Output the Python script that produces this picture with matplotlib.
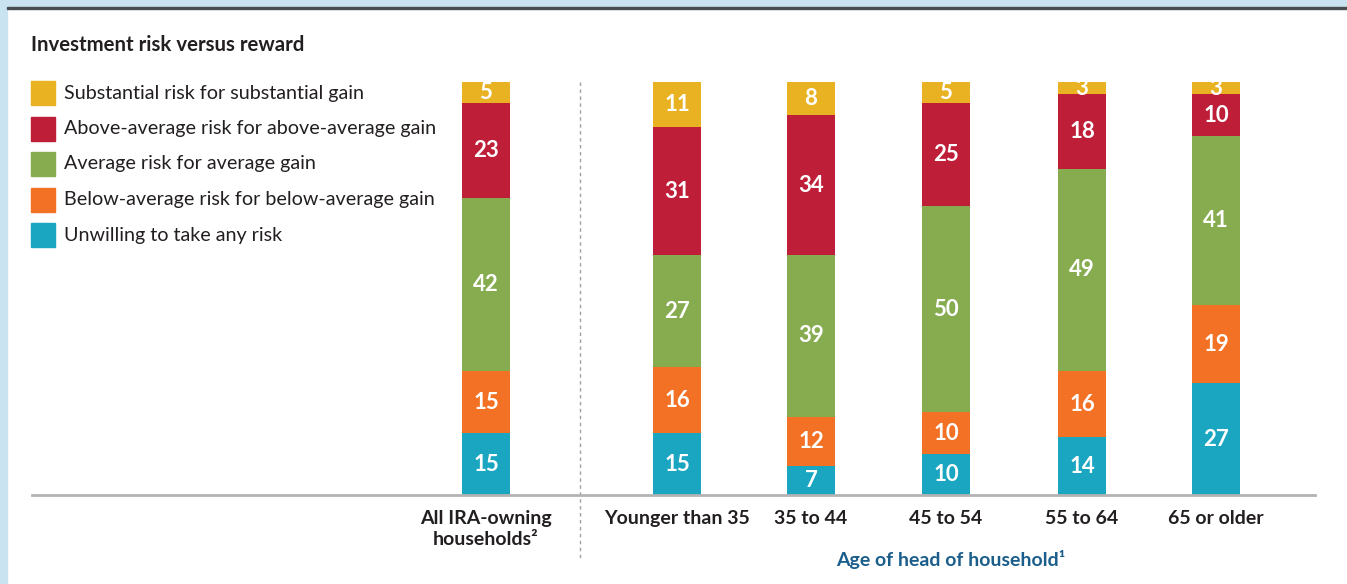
import matplotlib.pyplot as plt
from matplotlib.patches import Rectangle

W, H = 1347, 584

groups = ['All IRA-owning\nhouseholds\u00b2', 'Younger than 35', '35 to 44',
          '45 to 54', '55 to 64', '65 or older']
# bottom to top
series = ['Unwilling to take any risk',
          'Below-average risk for below-average gain',
          'Average risk for average gain',
          'Above-average risk for above-average gain',
          'Substantial risk for substantial gain']
unwilling = [15, 15, 7, 10, 14, 27]
below_avg = [15, 16, 12, 10, 16, 19]
average = [42, 27, 39, 50, 49, 41]
above_avg = [23, 31, 34, 25, 18, 10]
substantial = [5, 11, 8, 5, 3, 3]
values = [unwilling, below_avg, average, above_avg, substantial]
colors = ['#1aa6c1', '#f37124', '#86ac4f', '#be1e37', '#e8b223']

x_pos = [486, 677, 811, 946, 1082, 1216]
fam = ['Lato', 'DejaVu Sans']
plt.rcParams['font.family'] = fam

fig = plt.figure(figsize=(W / 100, H / 100), dpi=100)
fig.patch.set_facecolor('white')

# frame bands
blue = '#c9e4f0'
fig.patches.append(Rectangle((0, 1 - 7 / H), 1, 7 / H, transform=fig.transFigure, color=blue, zorder=0))
fig.patches.append(Rectangle((0, 0), 7 / W, 1, transform=fig.transFigure, color=blue, zorder=0))
fig.patches.append(Rectangle((7 / W, 1 - 9 / H), 1, 2 / H, transform=fig.transFigure, color='#4a4d50', zorder=1))

ax = fig.add_axes([32 / W, (H - 495) / H, (1315 - 32) / W, 413 / H])
ax.set_xlim(32, 1315)
ax.set_ylim(0, 100)

bottom = [0] * len(groups)
for vals, c in zip(values, colors):
    ax.bar(x_pos, vals, width=48, bottom=bottom, color=c, linewidth=0)
    for x, b, v in zip(x_pos, bottom, vals):
        ax.text(x, b + v / 2, str(v), ha='center', va='center', color='white',
                fontsize=16, fontweight='bold')
    bottom = [b + v for b, v in zip(bottom, vals)]

for s in ['top', 'right', 'left']:
    ax.spines[s].set_visible(False)
ax.spines['bottom'].set_color('#b3b3b3')
ax.spines['bottom'].set_linewidth(2)
ax.set_yticks([])
ax.set_xticks(x_pos)
ax.set_xticklabels(groups, fontsize=14, fontweight='bold', color='#231f20', linespacing=1.3)
ax.tick_params(axis='x', length=0, pad=11)

# divider between total and age groups
xd = (x_pos[0] + x_pos[1]) / 2 - 1.5
ax.plot([xd, xd], [100, -15.5], color='#a0a0a0', lw=1, ls=(0, (2.5, 2.5)), clip_on=False)

ax.text(951, -15.5, 'Age of head of household\u00b9', ha='center', va='center',
        fontsize=14, fontweight='bold', color='#1b5e8c')

fig.text(31 / W, 1 - 45 / H, 'Investment risk versus reward', ha='left', va='center',
         fontsize=14.7, fontweight='bold', color='#231f20')

# legend
row_y = [93, 129, 164, 200, 235]
for yy, lab, c in zip(row_y, series[::-1], colors[::-1]):
    fig.patches.append(Rectangle((31 / W, 1 - (yy + 12) / H), 24 / W, 24 / H,
                                 transform=fig.transFigure, color=c))
    fig.text(64 / W, 1 - yy / H, lab, ha='left', va='center', fontsize=14.2, color='#231f20')

fig.savefig('out.png', dpi=100)
